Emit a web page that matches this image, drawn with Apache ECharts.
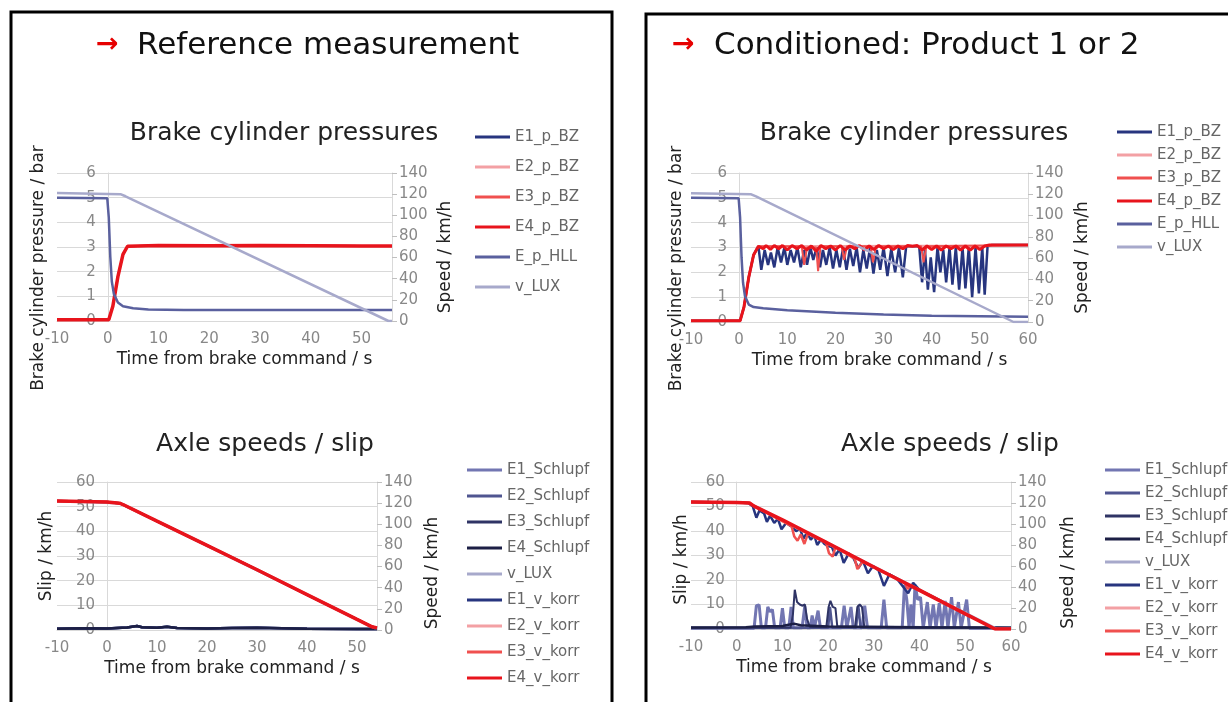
<!DOCTYPE html>
<html>
<head>
<meta charset="utf-8">
<script src="https://cdn.jsdelivr.net/npm/echarts@6/dist/echarts.min.js"></script>
<style>
html, body { margin: 0; padding: 0; background: #fff; }
#main { width: 1228px; height: 702px; }
</style>
</head>
<body>
<div id="main"></div>
<script>
// ---- reference measurement: brake cylinder pressures (bar / km/h) ----
const refPBZ = [[-10,0.05],[0.2,0.05],[1,0.6],[2,1.8],[3,2.7],[3.9,3.03],[10,3.06],[20,3.05],[30,3.06],[40,3.05],[50,3.04],[56,3.04]];
const refHLL = [[-10,5.0],[-0.1,4.98],[0.2,4.2],[0.5,2.6],[0.8,1.6],[1.2,1.1],[2,0.75],[3,0.6],[5,0.52],[8,0.47],[15,0.45],[56,0.45]];
const refLuxTop = [[-10,121],[2.5,120],[3.5,118],[55.3,0],[56,0]];

// ---- conditioned: brake cylinder pressures ----
const condE1PBZ = [[-10,0.05],[0.2,0.05],[1,0.6],[2,1.8],[3,2.7],[4,3.05],
  [4.6,2.1],[5.3,2.9],[6,2.3],[6.6,2.8],[7.3,2.2],[8,3.0],[8.7,2.4],[9.4,3.0],[10,2.3],[10.7,2.9],
  [11.4,2.4],[12.1,3.0],[12.8,2.2],[13.5,2.9],[14.1,2.3],[14.8,3.0],[15.4,2.5],[16.1,3.0],[16.8,2.2],
  [17.4,2.9],[18.1,2.3],[18.8,3.0],[19.5,2.15],[20.2,2.9],[20.9,2.2],[21.6,3.0],[22.3,2.1],[23,2.95],
  [23.7,2.25],[24.4,3.0],[25.1,2.0],[25.8,2.9],[26.5,2.15],[27.2,3.0],[27.9,1.95],[28.6,2.9],[29.3,2.1],
  [30,3.0],[30.8,1.85],[31.6,2.95],[32.4,2.0],[33.2,3.0],[34,1.8],[34.7,3.05],[37.4,3.05],[38,1.6],
  [38.6,2.9],[39.2,1.3],[39.8,2.6],[40.5,1.2],[41.2,3.0],[41.8,2.0],[42.4,2.9],[43,1.6],[43.7,3.0],
  [44.3,1.5],[45,3.0],[45.7,1.3],[46.4,3.0],[47,1.35],[47.7,3.0],[48.4,1.0],[49.1,3.0],[49.8,1.15],
  [50.5,3.0],[51,1.1],[51.6,3.05],[52.5,3.1],[60,3.1]];
const condE2PBZ = [[-10,0.05],[0.2,0.05],[1,0.6],[2,1.8],[3,2.7],[4,3.05],[52,3.08],[60,3.1]];
const condE3PBZ = [[-10,0.05],[0.2,0.05],[1,0.6],[2,1.8],[3,2.7],[4,3.05],[13,3.05],[13.5,2.3],[14.1,3.0],
  [16,3.0],[16.4,2.05],[16.9,3.05],[21.3,3.05],[21.8,2.5],[22.4,3.05],[27.3,3.05],[27.8,2.4],[28.4,3.05],
  [37.8,3.05],[38.3,2.4],[38.9,3.05],[52,3.08],[60,3.1]];
const condE4PBZ = [[-10,0.05],[0.2,0.05],[1,0.6],[2,1.8],[3,2.7],[4,3.05],[5,2.95],[5.6,3.08],[6.5,2.92],
  [7.3,3.08],[8.2,2.95],[9,3.08],[10,2.9],[11,3.08],[12,2.95],[13,3.08],[14,2.9],[15,3.06],[16,2.85],
  [17,3.08],[18,2.95],[19,3.06],[20,2.9],[21,3.08],[22,2.9],[23,3.06],[24,2.95],[25,3.08],[26,2.9],
  [27,3.06],[28,2.92],[29,3.08],[30,2.95],[31,3.06],[32,2.92],[33,3.06],[34,2.95],[35,3.08],[36,3.05],
  [37,3.08],[38,2.9],[39,3.06],[40,2.92],[41,3.06],[42,2.9],[43,3.06],[44,2.95],[45,3.06],[46,2.9],
  [47,3.06],[48,2.9],[49,3.06],[50,2.92],[51,3.06],[52,3.1],[60,3.1]];
const condHLL = [[-10,5.0],[-0.1,4.98],[0.2,4.2],[0.5,2.6],[0.8,1.6],[1.2,1.05],[2,0.7],[3,0.6],[5,0.55],
  [10,0.47],[20,0.37],[30,0.3],[40,0.25],[50,0.23],[60,0.21]];
const condLuxTop = [[-10,121],[2.5,120],[3.5,118],[57,0],[60,0]];

// ---- reference measurement: axle speeds / slip ----
const refVkorr = [[-10,122],[0,121],[2.5,120],[3.5,118],[10,103],[20,80],[30,57],[40,33.5],[50,10],[53,3],[54,2]];
const refLuxBottom = [[-10,122],[2.5,120],[3.5,118],[53.5,2],[54,2]];
const refSlip = [[-10,0.5],[-5,0.7],[0,0.6],[2,0.8],[4,1.0],[6,1.6],[7,1.1],[10,0.9],[12,1.3],[14,0.8],
  [20,0.6],[25,0.8],[30,0.9],[35,0.7],[40,0.5],[50,0.4],[54,0.4]];

// ---- conditioned: axle speeds / slip ----
const condE1Vkorr = [[-10,121],[0,120.5],[2.5,120],[3.5,117],[4.3,106],[5,113],[6,110],[6.6,102],[7.3,108],
  [8.2,101],[9,105],[9.8,95],[10.8,101],[11.5,99],[12.3,97],[13,93],[13.8,96],[14.6,86],[15.4,92],
  [16.2,85],[17,89],[17.6,80],[18.4,85],[19.2,81],[20,79],[20.8,78],[21.6,70],[22.5,76],[23.4,63],
  [24.5,72],[25.6,67],[26.6,58],[27.6,65],[28.7,53],[29.8,60],[31,56],[32.2,41],[33.4,52],[35,48],
  [37.5,34],[38.6,44],[40,37],[50,14.5],[56.5,0],[60,0]];
const condE2Vkorr = [[-10,121],[0,120.5],[2.8,120],[3.8,117],[56.5,0],[60,0]];
const condE3Vkorr = [[-10,121],[0,120.5],[2.8,120],[3.8,117],[12,98],[12.6,88],[13.3,84],[14,90],[14.8,81],
  [15.6,91],[19.5,83],[20.2,72],[21,69],[21.6,78],[25.8,67],[26.4,57],[27,61],[27.6,64],[36.8,44],
  [37.4,38],[38,42],[56.5,0],[60,0]];
const condE4Vkorr = [[-10,121],[0,120.5],[2.8,120],[3.8,117],[10,104],[20,81.6],[30,59],[40,36.8],[50,14.4],
  [56.5,0],[60,0]];
const condLuxBottom = [[-10,121],[2.5,120],[3.5,118],[57,0],[60,0]];
const condE1Slip = [[-10,0.3],[3.8,0.3],[4.3,9.5],[4.9,9.8],[5.4,0.5],[6.3,0.5],[6.8,9],[7.3,7],[7.8,8],
  [8.3,0.5],[9.5,0.5],[10,8.5],[10.5,0.5],[11.4,0.5],[11.9,9],[12.4,0.5],[14.3,0.5],[14.9,9.5],[15.4,0.5],
  [16.1,0.5],[16.5,5.5],[17,0.5],[17.4,0.5],[17.8,7.5],[18.3,0.5],[22.9,0.5],[23.5,9.5],[24.1,0.5],
  [24.5,0.5],[25,9],[25.5,0.5],[27.4,0.5],[28,9.5],[28.6,0.5],[31.6,0.5],[32.2,12],[32.8,0.5],[36.2,0.5],
  [36.7,18],[37.2,12],[37.7,0.5],[38.1,10],[38.6,0.5],[39,18],[39.6,12],[40.2,13],[40.8,0.5],[41.7,11],
  [42.3,0.5],[43,10],[43.6,0.5],[44.3,10.5],[44.9,0.5],[45.6,11.5],[46.2,0.5],[47,13],[47.6,0.5],
  [48.5,11],[49.1,0.5],[50.3,12],[50.9,0.3],[60,0.3]];
const condE2Slip = [[-10,0.4],[20,0.5],[20.4,9],[20.9,0.5],[26.1,0.5],[26.6,9.5],[27.1,0.5],[60,0.4]];
const condE3Slip = [[-10,0.5],[11.8,0.6],[12.3,6],[12.7,16],[13.2,11],[13.8,10],[14.4,9.5],[14.9,10],[15.4,4],
  [16,0.8],[19.6,0.8],[20.1,9],[20.5,11.5],[21,9],[21.6,8.5],[22,1],[25.9,1],[26.4,9],[26.9,10],
  [27.4,9],[27.9,1],[60,0.5]];
const condE4Slip = [[-10,0.6],[2,0.7],[4,1.0],[10,1.2],[12.5,2.2],[14,1.5],[20,1],[30,0.8],[40,0.6],[50,0.6],[60,0.5]];

const TICK = { color: '#888', fontSize: 15, fontFamily: 'DejaVu Sans' };
const NAME = { color: '#222', fontSize: 17, fontFamily: 'DejaVu Sans' };
const C = {
  e1: '#27357f', e2: '#f3a0a4', e3: '#f0504f', e4: '#e8141c',
  hll: '#5a609e', lux: '#a7a9cb',
  s1: '#7276b2', s2: '#4f5590', s3: '#2f3465', s4: '#1c1f45'
};

function line(name, data, color, width, xi, yi) {
  return {
    type: 'line', name: name, data: data, xAxisIndex: xi, yAxisIndex: yi,
    showSymbol: false, symbol: 'none', color: color,
    lineStyle: { color: color, width: width }
  };
}

function xAxis(gi, max, shift) {
  return {
    type: 'value', gridIndex: gi, min: -10, max: max, interval: 10,
    axisLine: { show: true, onZero: false, lineStyle: { color: '#d9d9d9' } },
    axisTick: { show: false }, splitLine: { show: false },
    axisLabel: Object.assign({ margin: 11, showMaxLabel: max % 10 === 0 }, TICK),
    name: 'Time from brake command / s', nameLocation: 'middle', nameGap: 30, nameMoveOverlap: false,
    nameTextStyle: Object.assign({ padding: [0, 0, 0, shift] }, NAME)
  };
}

// the primary axis crosses the time axis at t = 0, so it is shifted into the grid
function yLeft(gi, zeroOffset, max, interval, name, gap, shift) {
  return {
    type: 'value', gridIndex: gi, position: 'left', offset: -zeroOffset, min: 0, max: max, interval: interval,
    axisLine: { show: true, onZero: false, lineStyle: { color: '#d9d9d9' } },
    axisTick: { show: false },
    splitLine: { show: true, lineStyle: { color: '#d9d9d9' } },
    axisLabel: Object.assign({ margin: 12 }, TICK),
    name: name, nameLocation: 'middle', nameGap: gap, nameMoveOverlap: false,
    nameTextStyle: Object.assign({ padding: [0, shift, 0, 0] }, NAME)
  };
}

function yRight(gi, gap, shift) {
  return {
    type: 'value', gridIndex: gi, position: 'right', min: 0, max: 140, interval: 20,
    axisLine: { show: true, onZero: false, lineStyle: { color: '#d9d9d9' } },
    axisTick: { show: true, length: 5, lineStyle: { color: '#bfbfbf' } },
    splitLine: { show: false },
    axisLabel: Object.assign({ margin: 7 }, TICK),
    name: 'Speed / km/h', nameLocation: 'middle', nameGap: gap, nameMoveOverlap: false,
    nameTextStyle: Object.assign({ padding: [0, shift, 0, 0] }, NAME)
  };
}

function legend(names, left, top, gap) {
  return {
    data: names, orient: 'vertical', left: left, top: top, itemGap: gap, padding: 0,
    icon: 'rect', itemWidth: 35, itemHeight: 3, selectedMode: false,
    textStyle: { color: '#666', fontSize: 15, fontFamily: 'DejaVu Sans', lineHeight: 16 }
  };
}

function text(str, x, y, size, color, align, weight) {
  return {
    type: 'text', x: x, y: y, silent: true,
    style: {
      text: str, fill: color, font: (weight || 'normal') + ' ' + size + 'px "DejaVu Sans"',
      textAlign: align, align: align, textVerticalAlign: 'middle', verticalAlign: 'middle'
    }
  };
}

const chart = echarts.init(document.getElementById('main'));

const pNames = ['E1_p_BZ', 'E2_p_BZ', 'E3_p_BZ', 'E4_p_BZ', 'E_p_HLL', 'v_LUX'];
const sNames = ['E1_Schlupf', 'E2_Schlupf', 'E3_Schlupf', 'E4_Schlupf', 'v_LUX', 'E1_v_korr', 'E2_v_korr', 'E3_v_korr', 'E4_v_korr'];

chart.setOption({
  animation: false,
  backgroundColor: '#fff',
  graphic: [
    { type: 'rect', silent: true, shape: { x: 11, y: 12, width: 601, height: 720 }, style: { fill: 'none', stroke: '#000', lineWidth: 3 } },
    { type: 'rect', silent: true, shape: { x: 646, y: 14, width: 620, height: 720 }, style: { fill: 'none', stroke: '#000', lineWidth: 3 } },
    text('\u2192', 96, 45, 27, '#e60000', 'left', 'bold'),
    text('Reference measurement', 137, 46, 31, '#111', 'left'),
    text('\u2192', 672, 45, 27, '#e60000', 'left', 'bold'),
    text('Conditioned: Product 1 or 2', 714, 46, 31, '#111', 'left'),
    text('Brake cylinder pressures', 284, 133, 25, '#222', 'center'),
    text('Brake cylinder pressures', 914, 133, 25, '#222', 'center'),
    text('Axle speeds / slip', 265, 444, 25, '#222', 'center'),
    text('Axle speeds / slip', 950, 444, 25, '#222', 'center')
  ],
  legend: [
    legend(pNames, 475, 129, 14),
    legend(pNames, 1117, 124, 7),
    legend(sNames, 467, 462, 10),
    legend(sNames, 1105, 462, 7)
  ],
  grid: [
    { left: 57, top: 173, width: 335, height: 148, outerBoundsMode: 'none' },
    { left: 691, top: 173, width: 337, height: 149, outerBoundsMode: 'none' },
    { left: 57, top: 482, width: 320, height: 148, outerBoundsMode: 'none' },
    { left: 691, top: 482, width: 320, height: 147, outerBoundsMode: 'none' }
  ],
  xAxis: [
    xAxis(0, 56, 40),
    xAxis(1, 60, 40),
    xAxis(2, 54, 30),
    xAxis(3, 60, 26)
  ],
  yAxis: [
    yLeft(0, 335 * 10 / 66, 6, 1, 'Brake cylinder pressure / bar', 61, 42), yRight(0, 45, 20),
    yLeft(1, 337 * 10 / 70, 6, 1, 'Brake cylinder pressure / bar', 54, 42), yRight(1, 46, 20),
    yLeft(2, 320 * 10 / 64, 60, 10, 'Slip / km/h', 52, 0), yRight(2, 47, 34),
    yLeft(3, 320 * 10 / 70, 60, 10, 'Slip / km/h', 47, 8), yRight(3, 49, 34)
  ],
  series: [
    line('E1_p_BZ', refPBZ, C.e1, 2, 0, 0),
    line('E2_p_BZ', refPBZ, C.e2, 2, 0, 0),
    line('E3_p_BZ', refPBZ, C.e3, 2, 0, 0),
    line('E4_p_BZ', refPBZ, C.e4, 3.5, 0, 0),
    line('E_p_HLL', refHLL, C.hll, 2.5, 0, 0),
    line('v_LUX', refLuxTop, C.lux, 2.5, 0, 1),

    line('E1_p_BZ', condE1PBZ, C.e1, 2.5, 1, 2),
    line('E2_p_BZ', condE2PBZ, C.e2, 2, 1, 2),
    line('E3_p_BZ', condE3PBZ, C.e3, 2, 1, 2),
    line('E4_p_BZ', condE4PBZ, C.e4, 3, 1, 2),
    line('E_p_HLL', condHLL, C.hll, 2.5, 1, 2),
    line('v_LUX', condLuxTop, C.lux, 2.5, 1, 3),

    line('E1_Schlupf', refSlip, C.s1, 2.5, 2, 4),
    line('E2_Schlupf', refSlip, C.s2, 2.5, 2, 4),
    line('E3_Schlupf', refSlip, C.s3, 2.5, 2, 4),
    line('E4_Schlupf', refSlip, C.s4, 2.5, 2, 4),
    line('v_LUX', refLuxBottom, C.lux, 2.5, 2, 5),
    line('E1_v_korr', refVkorr, C.e1, 2.5, 2, 5),
    line('E2_v_korr', refVkorr, C.e2, 2.5, 2, 5),
    line('E3_v_korr', refVkorr, C.e3, 2.5, 2, 5),
    line('E4_v_korr', refVkorr, C.e4, 3.5, 2, 5),

    line('E1_Schlupf', condE1Slip, C.s1, 3, 3, 6),
    line('E2_Schlupf', condE2Slip, C.s2, 2.5, 3, 6),
    line('E3_Schlupf', condE3Slip, C.s3, 2, 3, 6),
    line('E4_Schlupf', condE4Slip, C.s4, 2.5, 3, 6),
    line('v_LUX', condLuxBottom, C.lux, 2.5, 3, 7),
    line('E1_v_korr', condE1Vkorr, C.e1, 2.5, 3, 7),
    line('E2_v_korr', condE2Vkorr, C.e2, 2.5, 3, 7),
    line('E3_v_korr', condE3Vkorr, C.e3, 2.5, 3, 7),
    line('E4_v_korr', condE4Vkorr, C.e4, 3.5, 3, 7)
  ]
});
</script>
</body>
</html>
